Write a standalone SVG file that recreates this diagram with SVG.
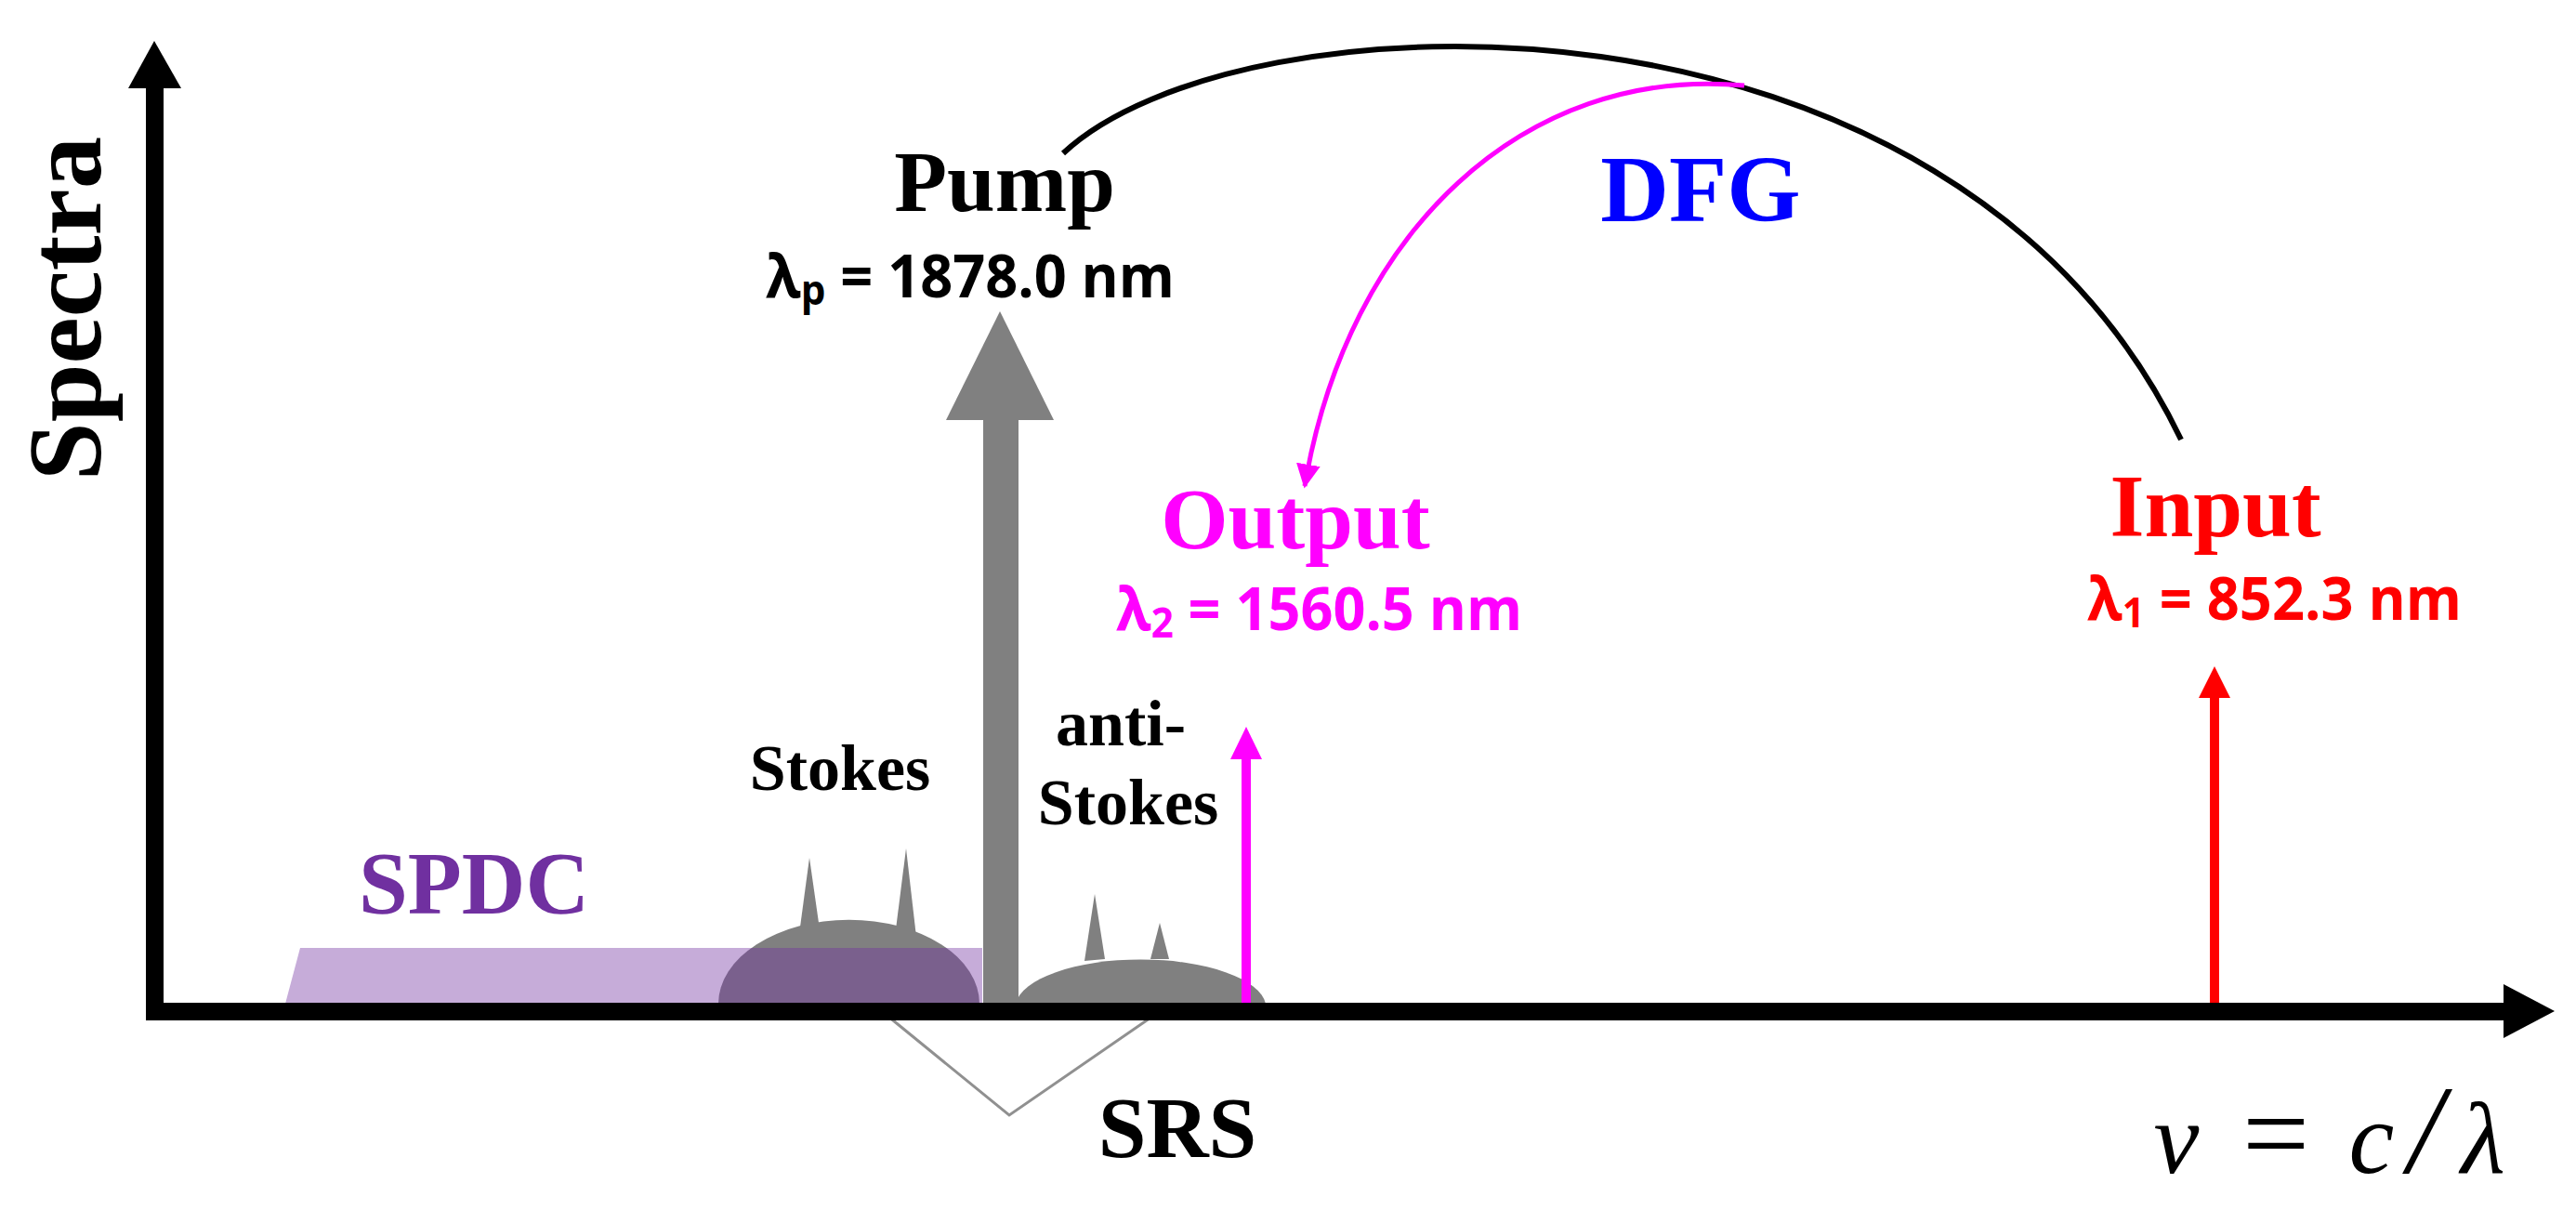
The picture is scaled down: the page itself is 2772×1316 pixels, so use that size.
<svg xmlns="http://www.w3.org/2000/svg" width="2772" height="1316" viewBox="0 0 2772 1316">
<defs>
<style>
.lbl{font-family:"Liberation Serif","Times New Roman",serif;font-weight:bold;text-anchor:middle}
.val{font-family:"Open Sans","Liberation Sans",sans-serif;font-weight:bold}
.math{font-family:"Liberation Serif","DejaVu Serif",serif;font-style:italic;text-anchor:middle}
.gray{fill:#808080}
</style>
<marker id="mag" viewBox="0 0 10 10" refX="9" refY="5" markerWidth="26" markerHeight="26" markerUnits="userSpaceOnUse" orient="auto">
<path d="M0,0 L10,5 L0,10 Z" fill="#FF00FF"/>
</marker>
</defs>
<rect width="2772" height="1316" fill="#FFFFFF"/>

<g id="srs-stokes">
<path class="gray" d="M773,1080 A140,90 0 0 1 1054,1080 Z"/>
<path class="gray" d="M860,1005 L871,923 L882,1000 Z"/>
<path class="gray" d="M964,1000 L975,913 L986,1008 Z"/>
</g>
<g id="srs-antistokes">
<path class="gray" d="M1093,1080 A135,52 0 0 1 1362,1080 Z"/>
<path class="gray" d="M1167,1034 L1178,962 L1189,1032 Z"/>
<path class="gray" d="M1238,1032 L1248,993 L1258,1032 Z"/>
</g>
<g id="spdc-band">
<polygon points="307,1080 323,1020 1057,1020 1057,1080" fill="#7030A0" fill-opacity="0.4"/>
</g>

<g id="connectors">
<path d="M939,1080 L1086,1200 L1260,1080" fill="none" stroke="#909090" stroke-width="3"/>
<path d="M1144,165 C1330,-10 2100,-40 2347,473" fill="none" stroke="#000000" stroke-width="6"/>
<path d="M1877,92 C1640,70 1450,250 1404,523" fill="none" stroke="#FF00FF" stroke-width="5" marker-end="url(#mag)"/>
</g>

<g id="pump-arrow">
<rect class="gray" x="1058" y="450" width="38" height="632"/>
<polygon class="gray" points="1018,452 1134,452 1076,335"/>
</g>
<g id="output-arrow">
<rect x="1336" y="812" width="10" height="270" fill="#FF00FF"/>
<polygon points="1324,817 1358,817 1341,782" fill="#FF00FF"/>
</g>
<g id="input-arrow">
<rect x="2378" y="746" width="10" height="336" fill="#FF0000"/>
<polygon points="2366,751 2400,751 2383,717" fill="#FF0000"/>
</g>

<g id="axes">
<rect x="157" y="92" width="19" height="1006" fill="#000000"/>
<polygon points="138,95 195,95 166,44" fill="#000000"/>
<rect x="157" y="1079" width="2540" height="19" fill="#000000"/>
<polygon points="2694,1059 2694,1117 2749,1088" fill="#000000"/>
</g>

<g id="label-spectra">
<text class="lbl" font-size="113" transform="translate(108,332) rotate(-90)">Spectra</text>
</g>
<g id="label-pump">
<text class="lbl" x="1081" y="227" font-size="93">Pump</text>
<text class="val" x="824" y="320" font-size="64" textLength="440" lengthAdjust="spacingAndGlyphs">λ<tspan font-size="44" dy="8">p</tspan><tspan dy="-8"> = 1878.0 nm</tspan></text>
</g>
<g id="label-dfg">
<text class="lbl" x="1830" y="238" font-size="102" fill="#0000FF">DFG</text>
</g>
<g id="label-output">
<text class="lbl" x="1394" y="590" font-size="93" fill="#FF00FF">Output</text>
<text class="val" x="1201" y="678" font-size="64" fill="#FF00FF" textLength="437" lengthAdjust="spacingAndGlyphs">λ<tspan font-size="44" dy="8">2</tspan><tspan dy="-8"> = 1560.5 nm</tspan></text>
</g>
<g id="label-input">
<text class="lbl" x="2384" y="577" font-size="95" fill="#FF0000">Input</text>
<text class="val" x="2246" y="667" font-size="64" fill="#FF0000" textLength="403" lengthAdjust="spacingAndGlyphs">λ<tspan font-size="44" dy="8">1</tspan><tspan dy="-8"> = 852.3 nm</tspan></text>
</g>
<g id="label-stokes">
<text class="lbl" x="904" y="850" font-size="70">Stokes</text>
</g>
<g id="label-antistokes">
<text class="lbl" x="1206" y="802" font-size="70">anti-</text>
<text class="lbl" x="1214" y="887" font-size="70">Stokes</text>
</g>
<g id="label-spdc">
<text class="lbl" x="510" y="983" font-size="95" fill="#7030A0">SPDC</text>
</g>
<g id="label-srs">
<text class="lbl" x="1267" y="1245" font-size="93">SRS</text>
</g>
<g id="label-axis-x">
<text class="math" y="1262" font-size="110"><tspan x="2342">ν</tspan><tspan x="2449" font-style="normal" font-size="128">=</tspan><tspan x="2552">c</tspan><tspan x="2610" font-size="135">/</tspan><tspan x="2672">λ</tspan></text>
</g>
</svg>
